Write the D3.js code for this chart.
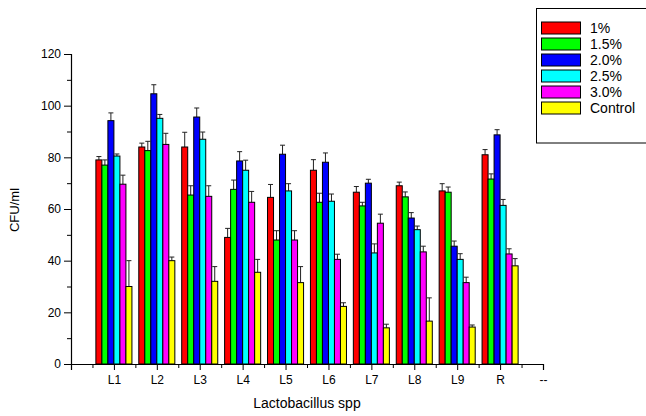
<!DOCTYPE html>
<html>
<head>
<meta charset="utf-8">
<script src="https://cdn.jsdelivr.net/npm/d3@7"></script>
<style>
  body { margin: 0; background: #fff; }
  text { font-family: "Liberation Sans", Arial, sans-serif; }
</style>
</head>
<body>
<svg id="chart" width="646" height="416"></svg>
<script>
// data
var categories = ["L1", "L2", "L3", "L4", "L5", "L6", "L7", "L8", "L9", "R"];
var seriesNames = ["1%", "1.5%", "2.0%", "2.5%", "3.0%", "Control"];
var seriesColors = ["#ff0000", "#00ff00", "#0000ff", "#00ffff", "#ff00ff", "#ffff00"];
var v1 = [79, 84, 84, 49, 64.5, 75, 66.5, 69, 67, 81];
var v15 = [77, 82.6, 65.4, 67.6, 48, 62.6, 61.2, 64.7, 66.5, 71.6];
var v20 = [94.2, 104.6, 95.6, 78.6, 81.2, 78.1, 70, 56.5, 45.6, 88.7];
var v25 = [80.5, 95.1, 87, 75, 67, 63, 43, 52, 40.5, 61.4];
var v30 = [69.6, 85, 64.9, 62.6, 48, 40.5, 54.5, 43.4, 31.5, 42.6];
var vCtrl = [30, 40, 32, 35.5, 31.5, 22.3, 14, 16.6, 14.3, 38];
var e1 = [1.3, 1.5, 5.7, 3.5, 5, 4.1, 2.2, 1.4, 2.8, 2];
var e15 = [2, 3.6, 3.6, 3.6, 3.6, 3.5, 1.4, 1.9, 2, 2];
var e20 = [3, 3.5, 3.5, 3.6, 3.5, 3.6, 1.5, 2.1, 2, 2];
var e25 = [0.8, 1.5, 2.8, 3.9, 2.8, 2.8, 3.5, 1.4, 2.2, 2.3];
var e30 = [3.5, 4.3, 4.1, 4.2, 3.6, 2, 3.5, 2.2, 2.1, 2];
var eCtrl = [10, 1.4, 5.7, 5, 6.2, 1.4, 1.4, 9, 0.8, 2.8];
var yTicks = [0, 20, 40, 60, 80, 100, 120];

var values = [v1, v15, v20, v25, v30, vCtrl];
var errors = [e1, e15, e20, e25, e30, eCtrl];

var svg = d3.select("#chart");
var x = d3.scaleLinear().domain([0, 11]).range([71, 543]);
var y = d3.scaleLinear().domain([0, 120]).range([364, 54]);
var barW = 0.14;

// bars
values.forEach(function (vals, s) {
  var g = svg.append("g");
  vals.forEach(function (v, i) {
    var left = (i + 1) - 3 * barW + s * barW;
    var x0 = x(left), x1 = x(left + barW);
    var top = y(v + errors[s][i]);
    var cx = (x0 + x1) / 2;
    // error bar (upper only)
    g.append("line").attr("x1", cx).attr("x2", cx)
      .attr("y1", y(v)).attr("y2", top)
      .attr("stroke", "#222").attr("stroke-width", 1);
    g.append("line").attr("x1", cx - 2.5).attr("x2", cx + 2.5)
      .attr("y1", top).attr("y2", top)
      .attr("stroke", "#222").attr("stroke-width", 1);
    g.append("rect")
      .attr("x", x0).attr("y", y(v))
      .attr("width", x1 - x0).attr("height", y(0) - y(v))
      .attr("fill", seriesColors[s])
      .attr("stroke", "#000").attr("stroke-width", 1);
  });
});

// y axis
var yAxis = svg.append("g").attr("transform", "translate(71,0)");
yAxis.call(d3.axisLeft(y).tickValues(yTicks).tickSize(7).tickPadding(3))
  .call(function (g) {
    g.select(".domain").attr("stroke", "#000").attr("stroke-width", 1.2);
    g.selectAll("text").attr("font-size", 12).attr("fill", "#000")
      .style("font-family", "Liberation Sans, Arial, sans-serif");
  });
yAxis.append("g").call(d3.axisLeft(y).tickValues(d3.range(10, 120, 20)).tickSize(4).tickFormat(""))
  .call(function (g) { g.select(".domain").remove(); });

// x axis
var xAxis = svg.append("g").attr("transform", "translate(0,364)");
var xLabels = [""].concat(categories).concat(["--"]);
xAxis.call(d3.axisBottom(x).tickValues(d3.range(0, 12)).tickSize(6).tickPadding(5)
    .tickFormat(function (d) { return xLabels[d]; }))
  .call(function (g) {
    g.select(".domain").attr("stroke", "#000").attr("stroke-width", 1.2);
    g.selectAll("text").attr("font-size", 12).attr("fill", "#000")
      .style("font-family", "Liberation Sans, Arial, sans-serif");
  });
xAxis.append("g").call(d3.axisBottom(x).tickValues(d3.range(0.5, 11, 1)).tickSize(4).tickFormat(""))
  .call(function (g) { g.select(".domain").remove(); });

// axis titles
svg.append("text").attr("transform", "translate(19,210) rotate(-90)")
  .attr("text-anchor", "middle").attr("font-size", 13).text("CFU/ml");
svg.append("text").attr("x", 307).attr("y", 408)
  .attr("text-anchor", "middle").attr("font-size", 14).text("Lactobacillus spp");

// legend
var leg = svg.append("g");
leg.append("rect").attr("x", 536.5).attr("y", 8.5).attr("width", 115).attr("height", 134.5)
  .attr("fill", "#fff").attr("stroke", "#000").attr("stroke-width", 1);
seriesNames.forEach(function (n, i) {
  var yy = 22 + i * 16;
  leg.append("rect").attr("x", 541.5).attr("y", yy).attr("width", 39).attr("height", 12)
    .attr("fill", seriesColors[i]).attr("stroke", "#000").attr("stroke-width", 1);
  leg.append("text").attr("x", 590).attr("y", yy + 11)
    .attr("font-size", 14).text(n);
});
</script>
</body>
</html>
